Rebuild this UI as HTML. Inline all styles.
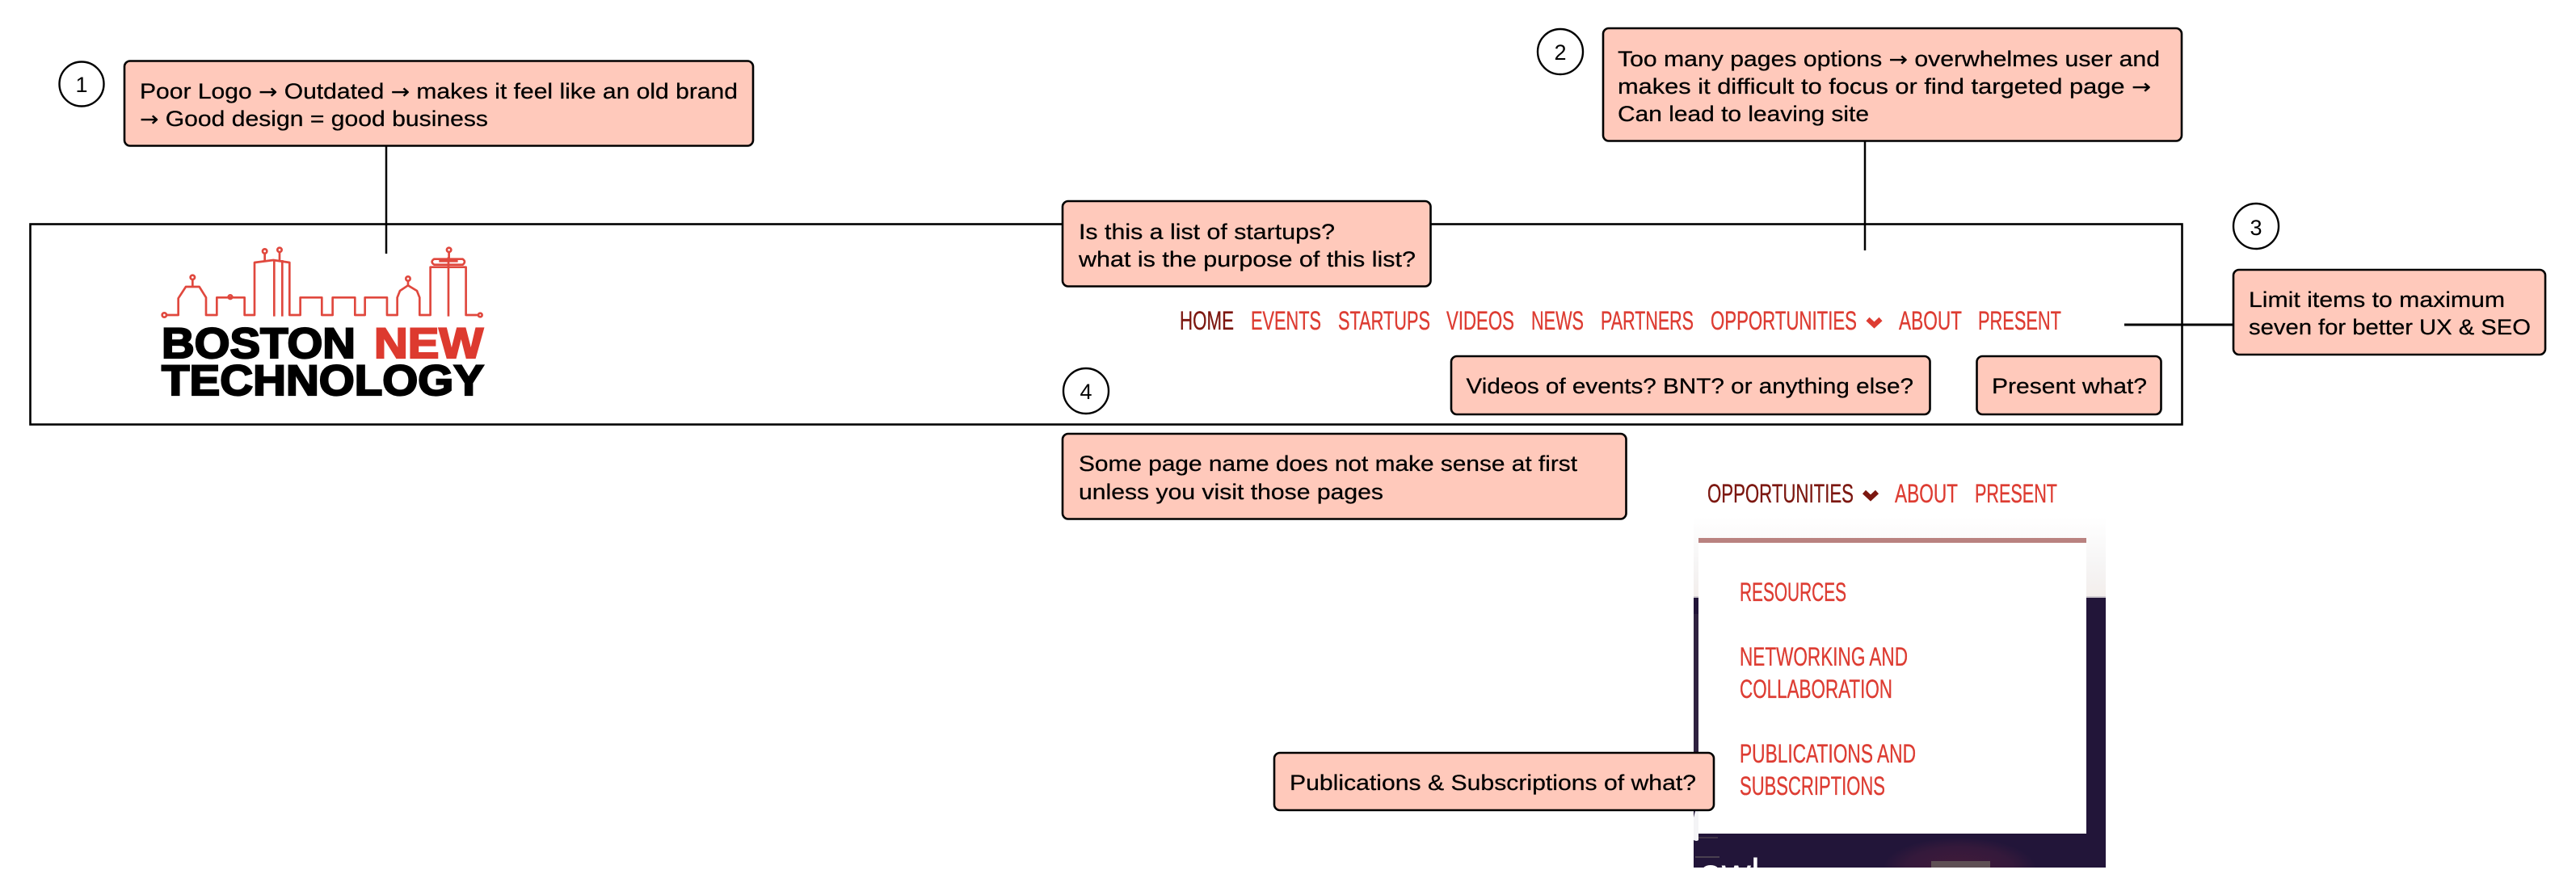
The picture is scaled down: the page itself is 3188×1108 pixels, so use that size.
<!DOCTYPE html>
<html><head><meta charset="utf-8"><style>
html,body{margin:0;padding:0;background:#fff;width:3188px;height:1108px;overflow:hidden}
svg{display:block}
.c{font-family:"Liberation Sans",sans-serif;font-size:27px;fill:#000;stroke:#000;stroke-width:.25}
.c tspan{font-family:"DejaVu Sans",sans-serif;font-size:25px}
.n{font-family:"Liberation Sans Narrow","Liberation Sans",sans-serif;font-size:32px;fill:#dd3c32;stroke:#dd3c32;stroke-width:.35}
.a{fill:#7c1710;stroke:#7c1710}
.b{fill:#ffc9bb;stroke:#000;stroke-width:2.6}
.o{fill:#fff;stroke:#000;stroke-width:2.4}
.d{font-family:"Liberation Sans",sans-serif;font-size:27px;text-anchor:middle;fill:#000}
.l{fill:none;stroke:#e0483e;stroke-width:8;stroke-linejoin:round}
.k{font-family:"Liberation Sans",sans-serif;font-weight:bold;font-size:53px;stroke-width:2.2}
</style></head><body>
<svg width="3188" height="1108" viewBox="0 0 3188 1108" xmlns="http://www.w3.org/2000/svg">
<defs>
<linearGradient id="s" x1="0" y1="0" x2="0" y2="1"><stop offset="0" stop-color="#fff"/><stop offset=".6" stop-color="#f6f5f5"/><stop offset="1" stop-color="#f3eeec"/></linearGradient>
<radialGradient id="g"><stop offset="0" stop-color="#421a3a"/><stop offset=".7" stop-color="#34193b"/><stop offset="1" stop-color="#221539"/></radialGradient>
<clipPath id="cp"><rect x="2096" y="740" width="510" height="334"/></clipPath>
</defs>

<!-- frame -->
<rect x="37.5" y="277.5" width="2663" height="248" fill="#fff" stroke="#000" stroke-width="2.6"/>

<!-- connectors -->
<line x1="478" y1="181" x2="478" y2="314" stroke="#000" stroke-width="2.5"/>
<line x1="2308" y1="175" x2="2308" y2="310" stroke="#000" stroke-width="2.5"/>
<line x1="2629" y1="402" x2="2763" y2="402" stroke="#000" stroke-width="3"/>

<!-- logo -->
<g transform="translate(180 290) scale(.3333)">
<path class="l" d="M78 300H122V238L150 195H200L225 235V300H265V235H368V300H405V105L475 96L535 105V300H575V235H655V300H695V235H778V300H815V235H897V300H935V235L945 210L975 190L1008 210L1018 235V300H1058V122H1190V300H1235"/>
<path class="l" d="M478 96V305M508 96V305M1125 85V305M443 71V98M498 66V98M175 168V195M975 173V190M1127 66V90"/>
<circle class="l" cx="70" cy="300" r="8"/><circle class="l" cx="1243" cy="300" r="7"/>
<circle class="l" cx="443" cy="63" r="8"/><circle class="l" cx="498" cy="58" r="8"/>
<circle class="l" cx="175" cy="160" r="8"/><circle class="l" cx="975" cy="165" r="8"/>
<circle class="l" cx="315" cy="233" r="7"/><circle class="l" cx="1127" cy="58" r="8"/>
<path class="l" d="M1072 92H1178Q1192 102 1178 113H1072Q1056 102 1072 92ZM1090 100H1160"/>
</g>
<text class="k" x="200" y="443" textLength="240" lengthAdjust="spacingAndGlyphs" fill="#000" stroke="#000">BOSTON</text>
<text class="k" x="463" y="443" textLength="135" lengthAdjust="spacingAndGlyphs" fill="#dd3a2f" stroke="#dd3a2f">NEW</text>
<text class="k" x="200" y="489" textLength="399" lengthAdjust="spacingAndGlyphs" fill="#000" stroke="#000">TECHNOLOGY</text>

<!-- nav top -->
<text class="n a" x="1460" y="408" textLength="67" lengthAdjust="spacingAndGlyphs">HOME</text>
<text class="n" x="1548" y="408" textLength="87" lengthAdjust="spacingAndGlyphs">EVENTS</text>
<text class="n" x="1656" y="408" textLength="114" lengthAdjust="spacingAndGlyphs">STARTUPS</text>
<text class="n" x="1790" y="408" textLength="84" lengthAdjust="spacingAndGlyphs">VIDEOS</text>
<text class="n" x="1895" y="408" textLength="65" lengthAdjust="spacingAndGlyphs">NEWS</text>
<text class="n" x="1981" y="408" textLength="115" lengthAdjust="spacingAndGlyphs">PARTNERS</text>
<text class="n" x="2117" y="408" textLength="181" lengthAdjust="spacingAndGlyphs">OPPORTUNITIES</text>
<path d="M2311.500 395L2319.500 402.500L2327.500 395" fill="none" stroke="#dd3c32" stroke-width="6"/>
<text class="n" x="2350" y="408" textLength="78" lengthAdjust="spacingAndGlyphs">ABOUT</text>
<text class="n" x="2448" y="408" textLength="103" lengthAdjust="spacingAndGlyphs">PRESENT</text>

<!-- nav lower -->
<text class="n a" x="2113" y="622" textLength="181" lengthAdjust="spacingAndGlyphs">OPPORTUNITIES</text>
<path d="M2307 609L2315 616.500L2323 609" fill="none" stroke="#7c1710" stroke-width="6"/>
<text class="n" x="2345" y="622" textLength="78" lengthAdjust="spacingAndGlyphs">ABOUT</text>
<text class="n" x="2444" y="622" textLength="102" lengthAdjust="spacingAndGlyphs">PRESENT</text>

<!-- dropdown backdrop -->
<rect x="2096" y="640" width="510" height="98" fill="url(#s)"/>
<rect x="2096" y="738" width="510" height="2" fill="#cfcbd0"/>
<rect x="2096" y="740" width="510" height="334" fill="#221539"/>
<g clip-path="url(#cp)">
<ellipse cx="2425" cy="1075" rx="95" ry="38" fill="url(#g)"/>
<rect x="2390" y="1066" width="73" height="10" fill="#5f5055"/>
<rect x="2096" y="1036" width="30" height="2" fill="#3f3348"/>
<rect x="2098" y="1060" width="30" height="2" fill="#4a4050"/>
<rect x="2096" y="760" width="6" height="240" fill="#2f2240"/>
<text x="2103" y="1098" font-family="Liberation Sans,sans-serif" font-size="50" fill="#fff">owl</text>
</g>
<path d="M2096 1012L2098 1004H2102V1040Q2100 1042 2096 1040Z" fill="#f4f4f6"/>
<rect x="2102" y="666" width="480" height="366" fill="#fff"/>
<rect x="2102" y="666" width="480" height="6" fill="#b98280"/>
<text class="n" x="2153" y="744" textLength="132" lengthAdjust="spacingAndGlyphs">RESOURCES</text>
<text class="n" x="2153" y="824" textLength="208" lengthAdjust="spacingAndGlyphs">NETWORKING AND</text>
<text class="n" x="2153" y="864" textLength="189" lengthAdjust="spacingAndGlyphs">COLLABORATION</text>
<text class="n" x="2153" y="944" textLength="218" lengthAdjust="spacingAndGlyphs">PUBLICATIONS AND</text>
<text class="n" x="2153" y="984" textLength="180" lengthAdjust="spacingAndGlyphs">SUBSCRIPTIONS</text>

<!-- numbered circles -->
<circle class="o" cx="101" cy="104" r="27.5"/><text class="d" x="101" y="114">1</text>
<circle class="o" cx="1931" cy="64" r="28"/><text class="d" x="1931" y="74">2</text>
<circle class="o" cx="2792" cy="280" r="28"/><text class="d" x="2792" y="291">3</text>
<circle class="o" cx="1344" cy="484" r="28"/><text class="d" x="1344" y="494">4</text>

<!-- callouts -->
<rect class="b" x="154" y="75.500" width="778" height="105" rx="7"/>
<text class="c" x="173" y="122" textLength="740" lengthAdjust="spacingAndGlyphs">Poor Logo <tspan>→</tspan> Outdated <tspan>→</tspan> makes it feel like an old brand</text>
<text class="c" x="173" y="156" textLength="431" lengthAdjust="spacingAndGlyphs"><tspan>→</tspan> Good design = good business</text>

<rect class="b" x="1984" y="35" width="716" height="139.500" rx="7"/>
<text class="c" x="2002" y="82" textLength="671" lengthAdjust="spacingAndGlyphs">Too many pages options <tspan>→</tspan> overwhelmes user and</text>
<text class="c" x="2002" y="116" textLength="660" lengthAdjust="spacingAndGlyphs">makes it difficult to focus or find targeted page <tspan>→</tspan></text>
<text class="c" x="2002" y="150" textLength="311" lengthAdjust="spacingAndGlyphs">Can lead to leaving site</text>

<rect class="b" x="2764" y="334" width="386" height="105" rx="7"/>
<text class="c" x="2783" y="380" textLength="317" lengthAdjust="spacingAndGlyphs">Limit items to maximum</text>
<text class="c" x="2783" y="414" textLength="349" lengthAdjust="spacingAndGlyphs">seven for better UX &amp; SEO</text>

<rect class="b" x="1315" y="249" width="455.500" height="105.500" rx="7"/>
<text class="c" x="1335" y="296" textLength="317" lengthAdjust="spacingAndGlyphs">Is this a list of startups?</text>
<text class="c" x="1335" y="330" textLength="417" lengthAdjust="spacingAndGlyphs">what is the purpose of this list?</text>

<rect class="b" x="1796" y="441" width="592.500" height="72" rx="7"/>
<text class="c" x="1814.500" y="487" textLength="553.500" lengthAdjust="spacingAndGlyphs">Videos of events? BNT? or anything else?</text>

<rect class="b" x="2446.500" y="441" width="228" height="72" rx="7"/>
<text class="c" x="2465" y="487" textLength="192" lengthAdjust="spacingAndGlyphs">Present what?</text>

<rect class="b" x="1315" y="537" width="697.500" height="105.500" rx="7"/>
<text class="c" x="1335" y="583" textLength="617" lengthAdjust="spacingAndGlyphs">Some page name does not make sense at first</text>
<text class="c" x="1335" y="618" textLength="377" lengthAdjust="spacingAndGlyphs">unless you visit those pages</text>

<rect class="b" x="1577" y="932" width="544" height="71" rx="7"/>
<text class="c" x="1596" y="978" textLength="503" lengthAdjust="spacingAndGlyphs">Publications &amp; Subscriptions of what?</text>
</svg>
</body></html>
